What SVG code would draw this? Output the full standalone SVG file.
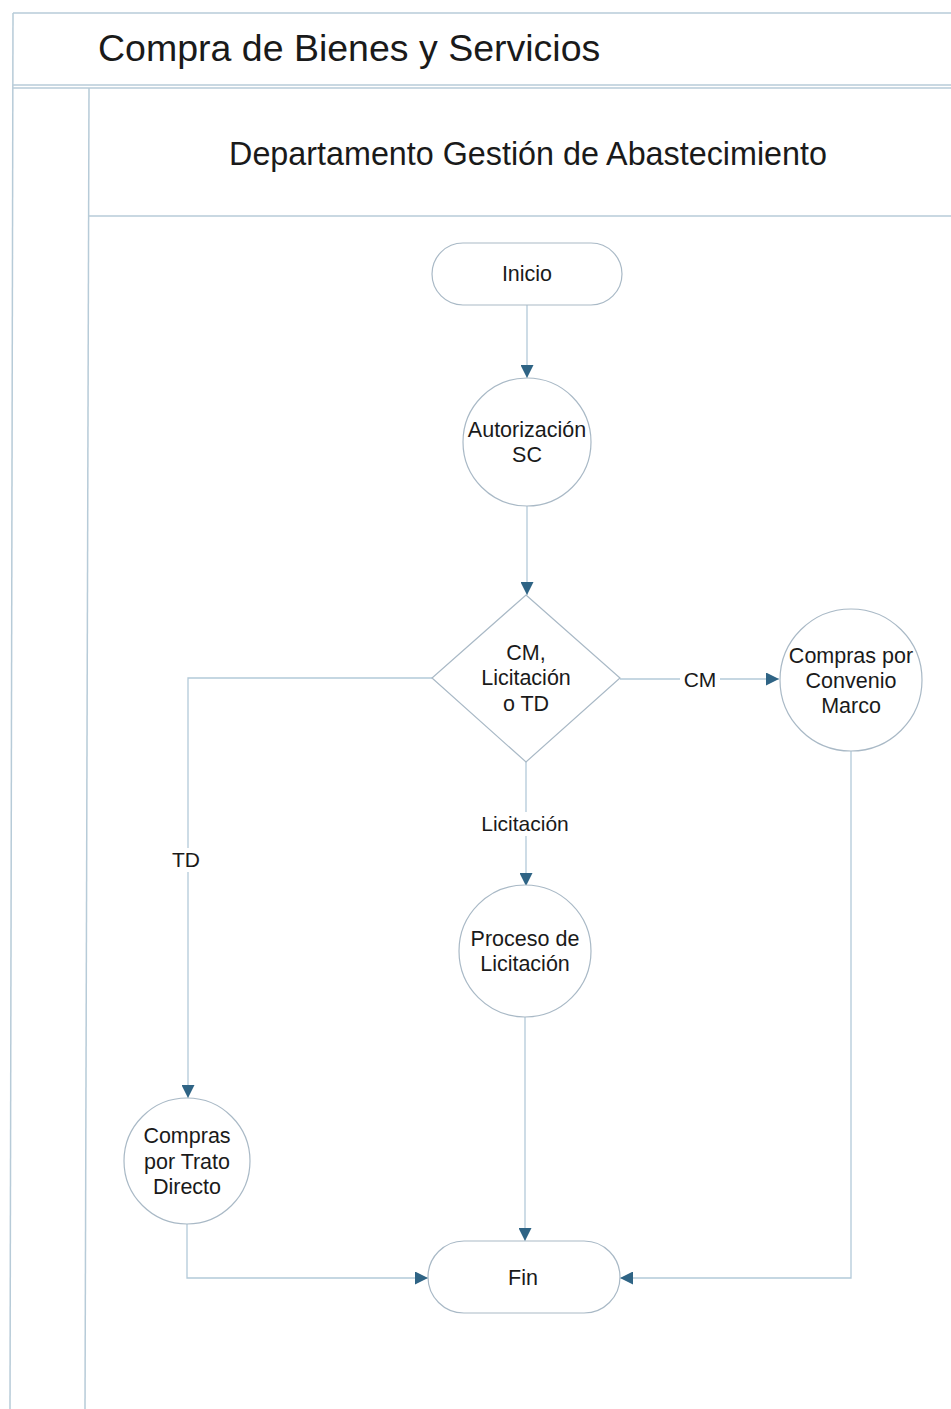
<svg xmlns="http://www.w3.org/2000/svg" width="951" height="1409" viewBox="0 0 951 1409">
<defs>
<marker id="arr" viewBox="0 0 13 13" refX="13" refY="6.5" markerWidth="13" markerHeight="13" markerUnits="userSpaceOnUse" orient="auto">
<path d="M0,0 L13,6.5 L0,13 Z" fill="#2f6485"/>
</marker>
<style>
.frame{fill:none;stroke:#b7cbd8;stroke-width:1.5}
.node{fill:#ffffff;stroke:#a9b9c6;stroke-width:1.2}
.edge{fill:none;stroke:#b3cad9;stroke-width:1.3}
.t{font-family:"Liberation Sans",Arial,sans-serif;font-size:21.5px;fill:#1a1a1a;text-anchor:middle}
.lbl{font-family:"Liberation Sans",Arial,sans-serif;font-size:21px;fill:#1a1a1a;text-anchor:middle}
</style>
</defs>
<rect width="951" height="1409" fill="#ffffff"/>
<g id="frame">
<line class="frame" x1="13" y1="13" x2="951" y2="13"/>
<line class="frame" x1="13" y1="13" x2="10" y2="1409"/>
<line class="frame" x1="13" y1="85" x2="951" y2="85"/>
<line class="frame" x1="13" y1="88" x2="951" y2="88"/>
<line class="frame" x1="89" y1="88" x2="85" y2="1409"/>
<line class="frame" x1="89" y1="216" x2="951" y2="216"/>
<text x="98" y="61" font-family="'Liberation Sans',Arial,sans-serif" font-size="37.5" fill="#1a1a1a">Compra de Bienes y Servicios</text>
<text x="528" y="165" font-family="'Liberation Sans',Arial,sans-serif" font-size="32.3" fill="#1a1a1a" text-anchor="middle">Departamento Gestión de Abastecimiento</text>
</g>
<g id="connectors">
<line class="edge" x1="527" y1="305" x2="527" y2="378" marker-end="url(#arr)"/>
<line class="edge" x1="527" y1="506" x2="527" y2="595" marker-end="url(#arr)"/>
<line class="edge" x1="620" y1="679" x2="779" y2="679" marker-end="url(#arr)"/>
<line class="edge" x1="526" y1="762" x2="526" y2="886" marker-end="url(#arr)"/>
<polyline class="edge" points="432,678 188,678 188,1098" marker-end="url(#arr)"/>
<line class="edge" x1="525" y1="1017" x2="525" y2="1241" marker-end="url(#arr)"/>
<polyline class="edge" points="187,1224 187,1278 428,1278" marker-end="url(#arr)"/>
<polyline class="edge" points="851,751 851,1278 620,1278" marker-end="url(#arr)"/>
<rect x="680" y="667" width="40" height="24" fill="#ffffff"/>
<text class="lbl" x="700" y="687">CM</text>
<rect x="476" y="812" width="98" height="24" fill="#ffffff"/>
<text class="lbl" x="525" y="831">Licitación</text>
<rect x="169" y="848" width="36" height="24" fill="#ffffff"/>
<text class="lbl" x="186" y="867">TD</text>
</g>
<g id="inicio">
<rect class="node" x="432" y="243" width="190" height="62" rx="31" ry="31"/>
<text class="t" x="527" y="281">Inicio</text>
</g>
<g id="autorizacion">
<circle class="node" cx="527" cy="442" r="64"/>
<text class="t" x="527" y="437">Autorización</text>
<text class="t" x="527" y="462">SC</text>
</g>
<g id="decision">
<polygon class="node" points="526,595 620,678 526,762 432,678"/>
<text class="t" x="526" y="660">CM,</text>
<text class="t" x="526" y="685">Licitación</text>
<text class="t" x="526" y="711">o TD</text>
</g>
<g id="convenio">
<circle class="node" cx="851" cy="680" r="71"/>
<text class="t" x="851" y="663">Compras por</text>
<text class="t" x="851" y="688">Convenio</text>
<text class="t" x="851" y="713">Marco</text>
</g>
<g id="licitacion">
<circle class="node" cx="525" cy="951" r="66"/>
<text class="t" x="525" y="946">Proceso de</text>
<text class="t" x="525" y="971">Licitación</text>
</g>
<g id="tratodirecto">
<circle class="node" cx="187" cy="1161" r="63"/>
<text class="t" x="187" y="1143">Compras</text>
<text class="t" x="187" y="1169">por Trato</text>
<text class="t" x="187" y="1194">Directo</text>
</g>
<g id="fin">
<rect class="node" x="428" y="1241" width="192" height="72" rx="36" ry="36"/>
<text class="t" x="523" y="1285">Fin</text>
</g>
</svg>
